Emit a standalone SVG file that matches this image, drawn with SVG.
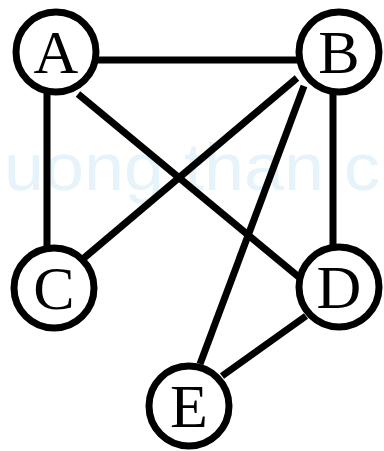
<svg xmlns="http://www.w3.org/2000/svg" width="384" height="451" viewBox="0 0 384 451">
<style>
.e{stroke:#000;stroke-width:7;fill:none}
.n{fill:#fff;stroke:#000;stroke-width:7}
.t{font-family:"Liberation Serif","Times New Roman",serif;font-size:62px;fill:#000;text-anchor:middle}
.w{font-family:"Liberation Sans",Arial,sans-serif;font-size:66px;fill:#e6f3fb}
</style>
<rect width="384" height="451" fill="#fff"/>
<text class="w" x="4" y="190" textLength="376" lengthAdjust="spacingAndGlyphs">uong than c</text>
<g id="edges">
<line class="e" x1="95" y1="60" x2="300" y2="60"/>
<line class="e" x1="47" y1="90" x2="47" y2="248"/>
<line class="e" x1="333" y1="90" x2="333" y2="248"/>
<line class="e" x1="78" y1="94" x2="300" y2="278"/>
<line class="e" x1="297" y1="78" x2="84" y2="258"/>
<line class="e" x1="304" y1="86" x2="200" y2="364"/>
<line class="e" x1="306" y1="316" x2="222" y2="376"/>
</g>
<g id="A"><circle class="n" cx="56" cy="52" r="40"/><text class="t" x="56" y="73">A</text></g>
<g id="B"><circle class="n" cx="339" cy="52" r="40"/><text class="t" x="339" y="73">B</text></g>
<g id="C"><circle class="n" cx="54" cy="288" r="40"/><text class="t" x="54" y="309">C</text></g>
<g id="D"><circle class="n" cx="339" cy="287" r="40"/><text class="t" x="339" y="308">D</text></g>
<g id="E"><circle class="n" cx="189" cy="406" r="40"/><text class="t" x="189" y="427">E</text></g>
</svg>
